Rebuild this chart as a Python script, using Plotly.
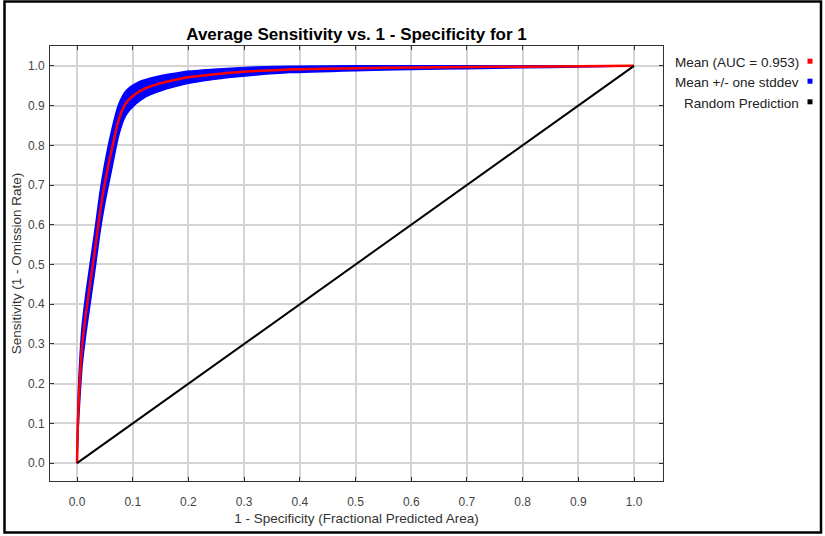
import plotly.graph_objects as go

# ---- data ----
fpr = [0, 0.002, 0.005, 0.009, 0.016, 0.0245, 0.033, 0.041, 0.050, 0.064, 0.074,
       0.085, 0.093, 0.101, 0.11, 0.122, 0.14, 0.161, 0.203, 0.262, 0.322, 0.382,
       0.5, 0.6, 0.7, 0.8, 0.9, 1.0]
mean_tpr = [0, 0.125, 0.209, 0.293, 0.377, 0.461, 0.545, 0.629, 0.705, 0.8, 0.86,
            0.9, 0.915, 0.925, 0.934, 0.943, 0.952, 0.960, 0.972, 0.981, 0.987,
            0.991, 0.994, 0.996, 0.997, 0.998, 0.999, 1.0]
std_tpr = [0, 0.04, 0.05, 0.05, 0.05, 0.05, 0.05, 0.05, 0.05, 0.048, 0.04,
           0.032, 0.029, 0.027, 0.025, 0.022, 0.02, 0.018, 0.015, 0.012, 0.01,
           0.008, 0.006, 0.005, 0.004, 0.003, 0.002, 0]
random_x = [0, 1]
random_y = [0, 1]
tick_vals = [0.0, 0.1, 0.2, 0.3, 0.4, 0.5, 0.6, 0.7, 0.8, 0.9, 1.0]
tick_text = ["0.0", "0.1", "0.2", "0.3", "0.4", "0.5", "0.6", "0.7", "0.8", "0.9", "1.0"]
legend_labels = ["Mean (AUC = 0.953)", "Mean +/- one stddev", "Random Prediction"]
legend_colors = ["#ff0000", "#0000ff", "#000000"]

upper = [min(1.0, m + s) for m, s in zip(mean_tpr, std_tpr)]
lower = [max(0.0, m - s) for m, s in zip(mean_tpr, std_tpr)]

W, H = 825, 536
L, R, T, B = 50, 663, 46, 481
PW, PH = R - L, B - T


def px(xp):
    return (xp - L) / PW


def py(yp):
    return (B - yp) / PH


FONT = "Liberation Sans, Arial, sans-serif"

fig = go.Figure()
fig.add_trace(go.Scatter(
    x=fpr + fpr[::-1], y=upper + lower[::-1], fill="toself",
    fillcolor="#0000ff", line=dict(color="#0000ff", width=1.5, shape="spline", smoothing=0.6),
    mode="lines", hoverinfo="skip", showlegend=False))
fig.add_trace(go.Scatter(
    x=fpr, y=mean_tpr, mode="lines",
    line=dict(color="#ff0000", width=2.5, shape="spline", smoothing=0.6), showlegend=False))
fig.add_trace(go.Scatter(
    x=random_x, y=random_y, mode="lines",
    line=dict(color="#000000", width=2), showlegend=False))

axis_common = dict(
    showgrid=True, gridcolor="#d4d4d4", gridwidth=1.5,
    zeroline=False, showline=True, linecolor="#333333", linewidth=1,
    mirror="ticks", ticks="inside", ticklen=4, tickcolor="#333333",
    tickvals=tick_vals, ticktext=tick_text,
    tickfont=dict(family=FONT, size=12, color="#444444"),
)

fig.update_xaxes(range=[-0.0485, 1.052], ticklabelstandoff=10,
                 title=dict(text="1 - Specificity (Fractional Predicted Area)",
                            font=dict(family=FONT, size=13.5, color="#333333"),
                            standoff=5),
                 **axis_common)
fig.update_yaxes(range=[-0.045, 1.050], ticklabelstandoff=2,
                 title=dict(text="Sensitivity (1 - Omission Rate)",
                            font=dict(family=FONT, size=13.5, color="#333333"),
                            standoff=3),
                 **axis_common)

shapes = [dict(type="rect", xref="paper", yref="paper",
               x0=px(4.5), x1=px(821), y0=py(532.5), y1=py(1.5),
               line=dict(color="#000000", width=2.5), fillcolor="rgba(0,0,0,0)",
               layer="above")]
annotations = []
row_y = [62.7, 82.7, 103.3]
for lab, col, ry in zip(legend_labels, legend_colors, row_y):
    annotations.append(dict(xref="paper", yref="paper", x=px(801), y=py(ry),
                            xanchor="right", yanchor="middle", showarrow=False,
                            text=lab, font=dict(family=FONT, size=13.5, color="#222222")))
    shapes.append(dict(type="rect", xref="paper", yref="paper",
                       x0=px(807.5), x1=px(812.5), y0=py(ry + 1), y1=py(ry - 4),
                       line=dict(width=0), fillcolor=col))

fig.update_layout(
    width=W, height=H,
    margin=dict(l=L, r=W - R, t=T, b=H - B),
    paper_bgcolor="#ffffff", plot_bgcolor="#ffffff",
    title=dict(text="<b>Average Sensitivity vs. 1 - Specificity for 1</b>",
               x=0.5, xref="paper", y=1 - 34 / H, yref="container",
               xanchor="center", yanchor="middle",
               font=dict(family=FONT, size=17, color="#000000")),
    shapes=shapes, annotations=annotations, showlegend=False,
)

fig.write_html("out.html", config={"displayModeBar": False},
               post_script="document.body.style.margin='0';document.body.style.overflow='hidden';")
